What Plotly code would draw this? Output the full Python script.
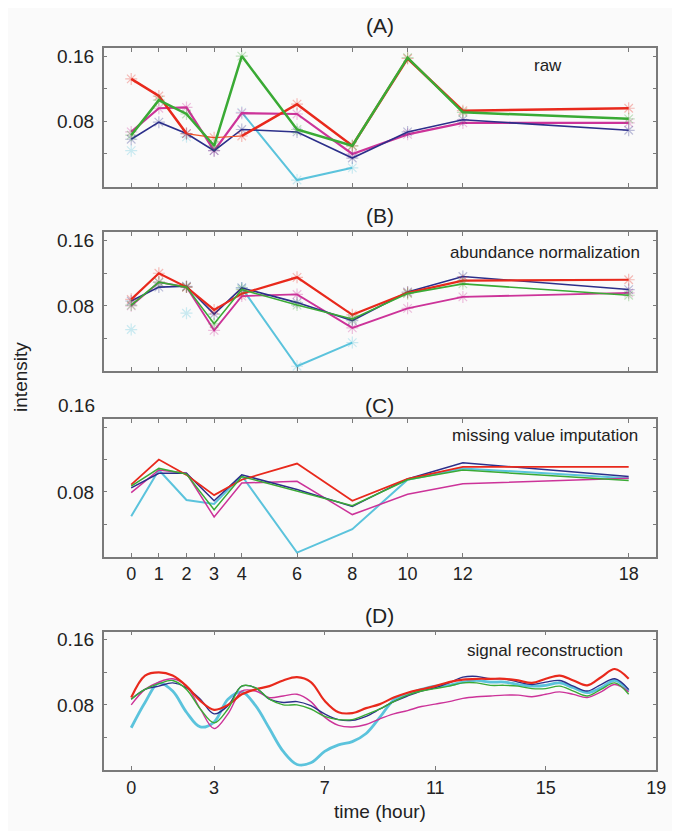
import plotly.graph_objects as go

# ---------------- data ----------------
hours = [0, 1, 2, 3, 4, 6, 8, 10, 12, 18]

raw_red     = [0.132, 0.111, 0.065, 0.060, 0.062, 0.101, 0.050, 0.157, 0.093, 0.096]
raw_green   = [0.063, 0.106, 0.089, 0.050, 0.160, 0.070, 0.050, 0.158, 0.091, 0.083]
raw_navy    = [0.058, 0.079, 0.065, 0.044, 0.070, 0.067, 0.035, 0.067, 0.082, 0.069]
raw_magenta = [0.067, 0.096, 0.097, 0.044, 0.090, 0.089, 0.040, 0.064, 0.078, 0.078]
raw_cyan    = [0.044, None, 0.061, None, 0.091, 0.008, 0.023, None, None, None]

norm_red     = [0.088, 0.120, 0.103, 0.075, 0.095, 0.115, 0.069, 0.096, 0.111, 0.112]
norm_green   = [0.081, 0.109, 0.103, 0.058, 0.100, 0.081, 0.064, 0.095, 0.107, 0.093]
norm_navy    = [0.086, 0.103, 0.104, 0.070, 0.102, 0.084, 0.062, 0.097, 0.116, 0.100]
norm_magenta = [0.080, 0.109, 0.103, 0.050, 0.092, 0.094, 0.053, 0.077, 0.091, 0.096]
norm_cyan    = [0.051, None, 0.071, None, 0.102, 0.006, 0.035, None, None, None]

imp_red     = [0.089, 0.120, 0.101, 0.076, 0.095, 0.115, 0.069, 0.096, 0.111, 0.111]
imp_green   = [0.087, 0.109, 0.102, 0.058, 0.099, 0.081, 0.063, 0.095, 0.107, 0.094]
imp_navy    = [0.085, 0.103, 0.103, 0.069, 0.101, 0.083, 0.062, 0.096, 0.116, 0.099]
imp_magenta = [0.079, 0.107, 0.103, 0.049, 0.091, 0.093, 0.052, 0.077, 0.090, 0.097]
imp_cyan    = [0.050, 0.107, 0.070, 0.065, 0.100, 0.005, 0.034, 0.095, 0.109, 0.097]

rec_hours = [0, 0.5, 1, 1.5, 2, 2.5, 3, 3.5, 4, 4.5, 5, 5.5, 6, 6.5, 7, 7.5, 8, 8.5,
             9, 9.5, 10, 10.5, 11, 11.5, 12, 12.5, 13, 13.5, 14, 14.5, 15, 15.5,
             16, 16.5, 17, 17.5, 18]

rec_red = [0.089, 0.116, 0.120, 0.116, 0.103, 0.085, 0.074, 0.080, 0.093, 0.099,
           0.103, 0.110, 0.114, 0.108, 0.085, 0.071, 0.070, 0.076, 0.081, 0.089,
           0.095, 0.099, 0.103, 0.108, 0.111, 0.112, 0.112, 0.112, 0.110, 0.107,
           0.112, 0.116, 0.110, 0.104, 0.114, 0.124, 0.112]
rec_navy = [0.087, 0.099, 0.103, 0.107, 0.101, 0.087, 0.069, 0.079, 0.103, 0.101,
            0.087, 0.083, 0.084, 0.079, 0.069, 0.062, 0.061, 0.066, 0.075, 0.084,
            0.091, 0.097, 0.101, 0.107, 0.114, 0.115, 0.112, 0.112, 0.108, 0.105,
            0.108, 0.110, 0.103, 0.097, 0.105, 0.112, 0.099]
rec_green = [0.087, 0.099, 0.106, 0.110, 0.099, 0.075, 0.058, 0.075, 0.103, 0.101,
             0.087, 0.080, 0.080, 0.075, 0.066, 0.062, 0.062, 0.068, 0.075, 0.084,
             0.092, 0.097, 0.100, 0.103, 0.107, 0.107, 0.104, 0.104, 0.103, 0.100,
             0.100, 0.103, 0.097, 0.091, 0.099, 0.107, 0.093]
rec_magenta = [0.080, 0.099, 0.108, 0.112, 0.103, 0.075, 0.051, 0.069, 0.097, 0.097,
               0.089, 0.091, 0.093, 0.084, 0.065, 0.055, 0.053, 0.056, 0.063, 0.069,
               0.073, 0.078, 0.081, 0.084, 0.088, 0.090, 0.091, 0.092, 0.092, 0.090,
               0.093, 0.096, 0.093, 0.089, 0.096, 0.105, 0.096]
rec_cyan = [0.052, 0.083, 0.107, 0.097, 0.071, 0.053, 0.059, 0.087, 0.096, 0.079,
            0.051, 0.023, 0.007, 0.009, 0.023, 0.031, 0.035, 0.045, 0.065, 0.086,
            0.093, 0.099, 0.103, 0.104, 0.108, 0.110, 0.108, 0.108, 0.105, 0.103,
            0.104, 0.107, 0.101, 0.095, 0.101, 0.110, 0.097]

panel_titles = ["(A)", "(B)", "(C)", "(D)"]
panel_notes = ["raw", "abundance normalization", "missing value imputation", "signal reconstruction"]
x_ticks_top = [0, 1, 2, 3, 4, 6, 8, 10, 12, 18]
x_ticks_bottom = [0, 3, 7, 11, 15, 19]
y_ticks = [0.04, 0.08, 0.12, 0.16]

# ---------------- style ----------------
W, H = 680, 831
RED, GREEN, NAVY, MAG, CYAN = "#e8291c", "#3aaa35", "#2c2f8a", "#cc3399", "#5bc3dc"
ORANGE = "#f0552a"
FONT = "Liberation Sans"
BG = "#fafafa"
AX = "#7a7a7a"

def px_x(p):
    return p / W

def px_y(p):
    return 1 - p / H

box_left, box_right = 97, 658
boxes = [(38, 177), (223, 362), (410, 548), (623, 762)]

fig = go.Figure()

def rgba(hexc, a):
    h = hexc.lstrip("#")
    return "rgba(%d,%d,%d,%.2f)" % (int(h[0:2], 16), int(h[2:4], 16), int(h[4:6], 16), a)

def axes_of(panel):
    return ("x" if panel == 1 else "x%d" % panel, "y" if panel == 1 else "y%d" % panel)

def add_series(panel, x, ys, widths, markers, spline=False, thin_red=None):
    xa, ya = axes_of(panel)
    order = [("cyan", CYAN), ("magenta", MAG), ("navy", NAVY), ("red", RED), ("green", GREEN)]
    for name, col in order:
        y = list(ys[name])
        if name == "red" and thin_red is not None:
            # thin orange stretch drawn separately (as in the original)
            i0, i1 = thin_red
            fig.add_trace(go.Scatter(x=x[i0:i1 + 1], y=y[i0:i1 + 1], xaxis=xa, yaxis=ya,
                                     mode="lines", line=dict(color=ORANGE, width=1.2),
                                     showlegend=False, hoverinfo="skip"))
            y_thick = [None if i0 < k < i1 else v for k, v in enumerate(y)]
            fig.add_trace(go.Scatter(x=x, y=y, xaxis=xa, yaxis=ya, mode="markers",
                                     marker=dict(symbol="asterisk-open", size=10, color=rgba(col, 0.3),
                                                 line=dict(width=1.2, color=rgba(col, 0.3))),
                                     showlegend=False, hoverinfo="skip"))
            y = y_thick
            # split thick red so that it does not cover the thin stretch
            fig.add_trace(go.Scatter(x=x[:i0 + 1], y=y[:i0 + 1], xaxis=xa, yaxis=ya, mode="lines",
                                     line=dict(color=col, width=widths[name]),
                                     showlegend=False, hoverinfo="skip"))
            fig.add_trace(go.Scatter(x=x[i1:], y=y[i1:], xaxis=xa, yaxis=ya, mode="lines",
                                     line=dict(color=col, width=widths[name]),
                                     showlegend=False, hoverinfo="skip"))
            continue
        tr = dict(x=x, y=y, xaxis=xa, yaxis=ya,
                  line=dict(color=col, width=widths[name]),
                  connectgaps=False, showlegend=False, hoverinfo="skip")
        if spline:
            tr["line"]["shape"] = "spline"
            tr["line"]["smoothing"] = 1.0
        if markers:
            tr["mode"] = "lines+markers"
            tr["marker"] = dict(symbol="asterisk-open", size=10,
                                color=rgba(col, 0.3), line=dict(width=1.2, color=rgba(col, 0.3)))
        else:
            tr["mode"] = "lines"
        fig.add_trace(go.Scatter(**tr))

add_series(1, hours, dict(red=raw_red, green=raw_green, navy=raw_navy, magenta=raw_magenta, cyan=raw_cyan),
           dict(red=2.5, green=2.5, navy=1.6, magenta=2.2, cyan=2.0), True, thin_red=(2, 4))
add_series(2, hours, dict(red=norm_red, green=norm_green, navy=norm_navy, magenta=norm_magenta, cyan=norm_cyan),
           dict(red=2.2, green=1.6, navy=1.6, magenta=1.8, cyan=2.0), True)
add_series(3, hours, dict(red=imp_red, green=imp_green, navy=imp_navy, magenta=imp_magenta, cyan=imp_cyan),
           dict(red=1.8, green=1.5, navy=1.5, magenta=1.5, cyan=2.0), False)
add_series(4, rec_hours, dict(red=rec_red, green=rec_green, navy=rec_navy, magenta=rec_magenta, cyan=rec_cyan),
           dict(red=2.2, green=1.4, navy=1.4, magenta=1.4, cyan=2.8), False, spline=True)

layout = dict(width=W, height=H, margin=dict(l=0, r=0, t=0, b=0),
              paper_bgcolor=BG, plot_bgcolor=BG,
              font=dict(family=FONT, color="#222222"))

for i, (top, bot) in enumerate(boxes, start=1):
    xk = "xaxis" if i == 1 else "xaxis%d" % i
    yk = "yaxis" if i == 1 else "yaxis%d" % i
    xt = x_ticks_bottom if i == 4 else x_ticks_top
    showx = i in (3, 4)
    layout[xk] = dict(domain=[px_x(box_left), px_x(box_right)], range=[-1, 19],
                      anchor="y" if i == 1 else "y%d" % i,
                      tickvals=xt, ticktext=[str(v) for v in xt] if showx else [""] * len(xt),
                      showticklabels=True, ticks="inside", ticklen=4, tickcolor=AX, tickwidth=1,
                      showline=True, linecolor=AX, linewidth=1.5, mirror="ticks",
                      showgrid=False, zeroline=False, ticklabelstandoff=0,
                      tickfont=dict(size=18, family=FONT, color="#222"), fixedrange=True)
    ytext = ["", "0.08", "", "" if i == 3 else "0.16"]
    layout[yk] = dict(domain=[px_y(bot), px_y(top)], range=[0, 0.17],
                      anchor="x" if i == 1 else "x%d" % i,
                      tickvals=y_ticks, ticktext=ytext,
                      ticks="inside", ticklen=4, tickcolor=AX, tickwidth=1,
                      showline=True, linecolor=AX, linewidth=1.5, mirror="ticks",
                      showgrid=False, zeroline=False, ticklabelstandoff=4,
                      tickfont=dict(size=19, family=FONT, color="#222"), fixedrange=True)

fig.update_layout(**layout)

title_y = [16, 206, 396, 607]
center_x = (box_left + box_right) / 2
for t, ty in zip(panel_titles, title_y):
    fig.add_annotation(text=t, x=px_x(center_x), y=px_y(ty), xref="paper", yref="paper",
                       showarrow=False, xanchor="center", yanchor="middle",
                       font=dict(size=21, family=FONT, color="#222"))

note_pos = [(548, 56, "center"), (643, 243, "right"), (641, 427, "right"), (626, 642, "right")]
for t, (nx, ny, anc) in zip(panel_notes, note_pos):
    fig.add_annotation(text=t, x=px_x(nx), y=px_y(ny), xref="paper", yref="paper",
                       showarrow=False, xanchor=anc, yanchor="middle",
                       font=dict(size=17, family=FONT, color="#222"))

# misplaced 0.16 label of panel C (sits above its box in the original)
fig.add_annotation(text="0.16", x=px_x(90), y=px_y(396), xref="paper", yref="paper",
                   showarrow=False, xanchor="right", yanchor="middle",
                   font=dict(size=19, family=FONT, color="#222"))

fig.add_annotation(text="intensity", x=px_x(12), y=px_y(368), xref="paper", yref="paper",
                   showarrow=False, textangle=-90, xanchor="center", yanchor="middle",
                   font=dict(size=19, family=FONT, color="#222"))
fig.add_annotation(text="time (hour)", x=px_x(center_x), y=px_y(803), xref="paper", yref="paper",
                   showarrow=False, xanchor="center", yanchor="middle",
                   font=dict(size=19, family=FONT, color="#222"))

fig.write_html("out.html")
